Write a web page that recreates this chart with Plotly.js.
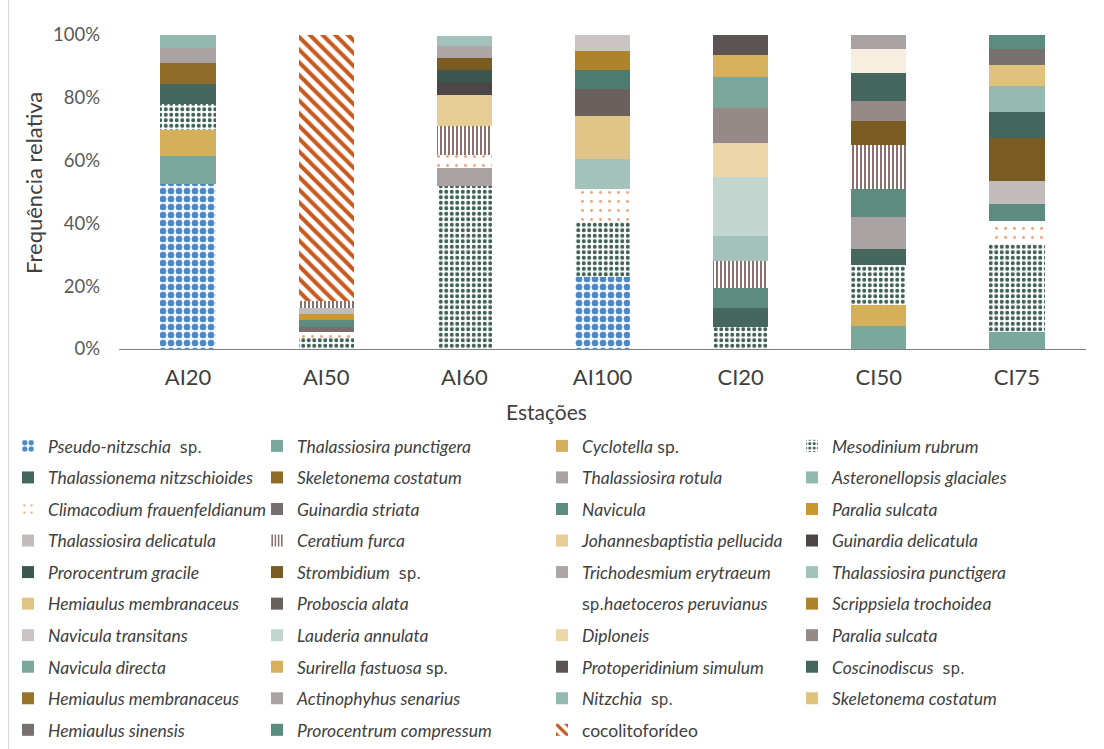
<!DOCTYPE html>
<html>
<head>
<meta charset="utf-8">
<script src="https://cdn.plot.ly/plotly-3.0.1.min.js"></script>
<style>html,body{margin:0;padding:0;background:#fff}#chart{width:1104px;height:749px}</style>
</head>
<body>
<div id="chart"></div>
<script>
// Stations (x categories)
const stations = ['AI20', 'AI50', 'AI60', 'AI100', 'CI20', 'CI50', 'CI75'];
const yTicks = [0, 20, 40, 60, 80, 100];
const yTickLabels = ['0%', '20%', '40%', '60%', '80%', '100%'];

// Relative frequency (%) per taxon, in station order
const pseudoNitzschia        = [52.5, 0, 0, 23.0, 0, 0, 0];
const thalPunctigera         = [8.9, 0, 0, 0, 0, 7.3, 5.5];
const cyclotella             = [8.2, 0, 0, 0, 0, 6.7, 0];
const mesodiniumRubrum       = [8.3, 3.4, 52.0, 17.3, 7.1, 12.7, 28.1];
const thalassionema          = [6.6, 0, 0, 0, 6.0, 5.0, 0];
const skeletonema            = [6.5, 0, 0, 0, 0, 0, 0];
const thalRotula             = [5.0, 0, 5.8, 0, 0, 10.3, 0];
const asteronellopsis        = [4.0, 0, 0, 0, 0, 0, 0];
const climacodium            = [0, 2.1, 4.1, 10.8, 0, 0, 7.1];
const guinardiaStriata       = [0, 1.6, 0, 0, 0, 0, 0];
const navicula               = [0, 2.2, 0, 0, 6.2, 9.1, 5.4];
const paraliaSulcata         = [0, 2.0, 0, 0, 0, 0, 0];
const thalDelicatula         = [0, 1.8, 0, 0, 0, 0, 7.3];
const ceratiumFurca          = [0, 2.1, 9.1, 0, 8.8, 14.0, 0];
const johannesbaptistia      = [0, 0, 9.9, 0, 0, 0, 0];
const guinardiaDelicatula    = [0, 0, 4.0, 0, 0, 0, 0];
const prorocentrumGracile    = [0, 0, 4.0, 0, 0, 0, 0];
const strombidium            = [0, 0, 3.7, 0, 0, 7.5, 13.9];
const trichodesmium          = [0, 0, 4.0, 0, 0, 0, 0];
const thalPunctigera2        = [0, 0, 3.2, 9.3, 8.0, 0, 0];
const hemiaulusMembranaceus  = [0, 0, 0, 13.7, 0, 0, 0];
const probosciaAlata         = [0, 0, 0, 8.6, 0, 0, 0];
const chaetocerosPeruvianus  = [0, 0, 0, 6.3, 0, 0, 0];
const scrippsiela            = [0, 0, 0, 6.0, 0, 0, 0];
const naviculaTransitans     = [0, 0, 0, 5.0, 0, 0, 0];
const lauderiaAnnulata       = [0, 0, 0, 0, 18.6, 0, 0];
const diploneis              = [0, 0, 0, 0, 10.8, 0, 0];
const paraliaSulcata2        = [0, 0, 0, 0, 11.4, 6.4, 0];
const naviculaDirecta        = [0, 0, 0, 0, 9.6, 0, 0];
const surirella              = [0, 0, 0, 0, 7.2, 0, 0];
const protoperidinium        = [0, 0, 0, 0, 6.4, 0, 0];
const coscinodiscus          = [0, 0, 0, 0, 0, 9.0, 8.2];
const hemiaulusMembranaceus2 = [0, 0, 0, 0, 0, 7.6, 0];
const actinophyhus           = [0, 0, 0, 0, 0, 4.3, 0];
const nitzchia               = [0, 0, 0, 0, 0, 0, 8.2];
const skeletonema2           = [0, 0, 0, 0, 0, 0, 6.7];
const hemiaulusSinensis      = [0, 0, 0, 0, 0, 0, 5.0];
const prorocentrumCompressum = [0, 0, 0, 0, 0, 0, 4.6];
const cocolitoforideo        = [0, 84.7, 0, 0, 0, 0, 0];

const SP = '<span style="font-family:DejaVu Sans;font-size:15px">sp.</span>';
const it = s => '<i>' + s + '</i>';

const series = [
  [it('Pseudo-nitzschia') + '  ' + SP, pseudoNitzschia, '#4F88C6', {shape: '.', fgcolor: '#4F88C6', bgcolor: '#ffffff', size: 8, solidity: 0.55}],
  [it('Thalassiosira punctigera'), thalPunctigera, '#7BA89C'],
  [it('Cyclotella') + ' sp.', cyclotella, '#D6AF5B'],
  [it('Mesodinium rubrum'), mesodiniumRubrum, '#3E5F55', {shape: '.', fgcolor: '#3E5F55', bgcolor: '#ffffff', size: 5.5, solidity: 0.42}],
  [it('Thalassionema nitzschioides'), thalassionema, '#46675E'],
  [it('Skeletonema costatum'), skeletonema, '#8E6C28'],
  [it('Thalassiosira rotula'), thalRotula, '#AAA2A2'],
  [it('Asteronellopsis glaciales'), asteronellopsis, '#93B9AF'],
  [it('Climacodium frauenfeldianum'), climacodium, '#F2A67A', {shape: '.', fgcolor: '#F0A47C', bgcolor: '#ffffff', size: 9, solidity: 0.08}],
  [it('Guinardia striata'), guinardiaStriata, '#786E6E'],
  [it('Navicula'), navicula, '#5C8B7F'],
  [it('Paralia sulcata'), paraliaSulcata, '#C9982E'],
  [it('Thalassiosira delicatula'), thalDelicatula, '#C2BCBC'],
  [it('Ceratium furca'), ceratiumFurca, '#7B625C', {shape: '|', fgcolor: '#7B625C', bgcolor: '#ffffff', size: 4, solidity: 0.45}],
  [it('Johannesbaptistia pellucida'), johannesbaptistia, '#E6CC95'],
  [it('Guinardia delicatula'), guinardiaDelicatula, '#4D4646'],
  [it('Prorocentrum gracile'), prorocentrumGracile, '#3A5750'],
  [it('Strombidium') + '  ' + SP, strombidium, '#7A5B21'],
  [it('Trichodesmium erytraeum'), trichodesmium, '#AEA6A6'],
  [it('Thalassiosira punctigera'), thalPunctigera2, '#A3C2BB'],
  [it('Hemiaulus membranaceus'), hemiaulusMembranaceus, '#E1C588'],
  [it('Proboscia alata'), probosciaAlata, '#6A605E'],
  [SP + it('haetoceros peruvianus'), chaetocerosPeruvianus, ['#ffffff', '#4E7B70', '#4E7B70', '#4E7B70', '#4E7B70', '#4E7B70', '#4E7B70']],
  [it('Scrippsiela trochoidea'), scrippsiela, '#AE832C'],
  [it('Navicula transitans'), naviculaTransitans, '#CAC4C4'],
  [it('Lauderia annulata'), lauderiaAnnulata, '#C0D6CF'],
  [it('Diploneis'), diploneis, '#ECD6A8'],
  [it('Paralia sulcata'), paraliaSulcata2, '#958A88'],
  [it('Navicula directa'), naviculaDirecta, '#7BA89B'],
  [it('Surirella fastuosa') + ' sp.', surirella, '#D6B05C'],
  [it('Protoperidinium simulum'), protoperidinium, '#5C5353'],
  [it('Coscinodiscus') + '  ' + SP, coscinodiscus, '#45665E'],
  [it('Hemiaulus membranaceus'), hemiaulusMembranaceus2, ['#977228', '#977228', '#977228', '#977228', '#977228', '#F6EFDF', '#977228']],
  [it('Actinophyhus senarius'), actinophyhus, '#ABA3A3'],
  [it('Nitzchia') + '  ' + SP, nitzchia, '#95B9AF'],
  [it('Skeletonema costatum'), skeletonema2, '#E0C27C'],
  [it('Hemiaulus sinensis'), hemiaulusSinensis, '#786F6F'],
  [it('Prorocentrum compressum'), prorocentrumCompressum, '#5C8B7F'],
  ['cocolitoforídeo', cocolitoforideo, '#C8591F', {shape: '\\', fgcolor: '#C8591F', bgcolor: '#ffffff', size: 9, solidity: 0.45}]
];

const legendKeys = ['legend', 'legend2', 'legend3', 'legend4'];

const traces = series.map((s, i) => {
  const marker = {color: s[2], line: {width: 0}};
  if (s[3]) marker.pattern = s[3];
  return {
    type: 'bar',
    name: s[0],
    x: stations,
    y: s[1],
    marker: marker,
    legend: legendKeys[i % 4],
    legendgroup: 'g' + i,
    hoverinfo: 'name+y'
  };
});

const W = 1104, H = 749;
const legendTop = 428;
const legendFont = {family: 'Lato', size: 17.5, color: '#404040'};
const legendCols = [8, 257, 542, 792];
function mkLegend(xpx) {
  return {
    xref: 'container', yref: 'container',
    x: xpx / W, y: 1 - legendTop / H,
    xanchor: 'left', yanchor: 'top',
    orientation: 'v',
    font: legendFont,
    bgcolor: 'rgba(0,0,0,0)',
    borderwidth: 0,
    traceorder: 'grouped',
    tracegroupgap: 5.8,
    itemclick: false, itemdoubleclick: false
  };
}

const layout = {
  width: W, height: H,
  paper_bgcolor: '#ffffff', plot_bgcolor: '#ffffff',
  margin: {l: 119, r: 18, t: 35, b: 400, autoexpand: false},
  barmode: 'stack',
  bargap: 0.6,
  showlegend: true,
  legend: mkLegend(legendCols[0]),
  legend2: mkLegend(legendCols[1]),
  legend3: mkLegend(legendCols[2]),
  legend4: mkLegend(legendCols[3]),
  xaxis: {
    type: 'category',
    showline: true, linecolor: '#7F7F7F', linewidth: 1.3,
    ticks: '', showgrid: false, zeroline: false,
    tickfont: {family: 'Lato', size: 22, color: '#404040'},
    ticklabelstandoff: 8
  },
  yaxis: {
    range: [0, 100], tickmode: 'array', tickvals: yTicks, ticktext: yTickLabels,
    showgrid: false, zeroline: false, showline: false, ticks: '',
    tickfont: {family: 'Lato', size: 18.5, color: '#595959'},
    ticklabelstandoff: 18
  },
  annotations: [{
    text: 'Estações', xref: 'paper', yref: 'paper',
    x: (546 - 119) / 967, y: (349 - 411) / 314,
    xanchor: 'center', yanchor: 'middle', showarrow: false,
    font: {family: 'Lato', size: 21, color: '#404040'}
  }, {
    text: 'Frequência relativa', xref: 'paper', yref: 'paper',
    x: (33 - 119) / 967, y: (349 - 183) / 314, textangle: -90,
    xanchor: 'center', yanchor: 'middle', showarrow: false,
    font: {family: 'Lato', size: 22, color: '#404040'}
  }],
  shapes: [{
    type: 'line', xref: 'paper', yref: 'paper',
    x0: (8.5 - 119) / 967, x1: (8.5 - 119) / 967,
    y0: 349 / 314, y1: (349 - 749) / 314,
    line: {color: '#D9D9D9', width: 1}
  }]
};

Plotly.newPlot('chart', traces, layout, {displayModeBar: false, staticPlot: true});
</script>
</body>
</html>
